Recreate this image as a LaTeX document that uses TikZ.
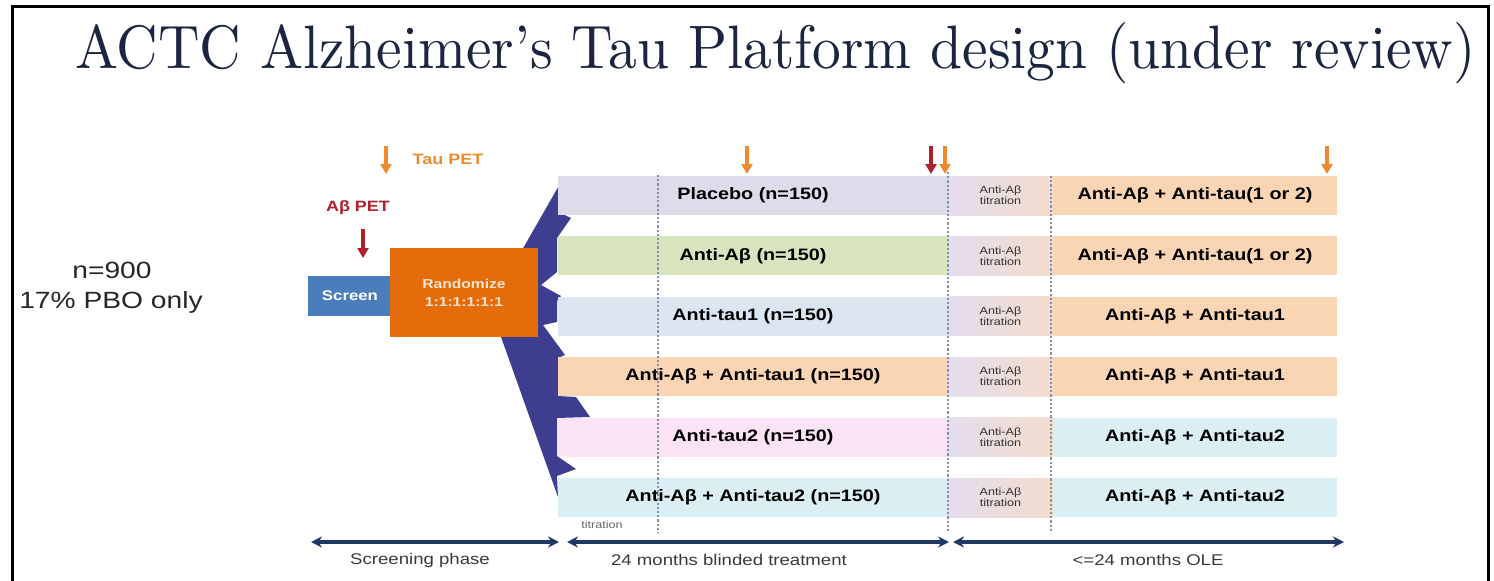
\documentclass[tikz,border=0pt]{standalone}
\usepackage{fontspec}
\usepackage{graphicx}
\usetikzlibrary{arrows.meta}
\newfontfamily\ar[FakeStretch=1.2]{Liberation Sans}
\definecolor{titlecol}{HTML}{1B2540}
\definecolor{fancol}{HTML}{3E3E91}
\definecolor{lav}{HTML}{DEDBEA}
\definecolor{grn}{HTML}{D7E4BD}
\definecolor{lblue}{HTML}{DCE6F1}
\definecolor{peach}{HTML}{FAD5B3}
\definecolor{pink}{HTML}{FBE3F6}
\definecolor{cyanb}{HTML}{DAEEF3}
\definecolor{titl}{HTML}{E4DDEE}
\definecolor{titr}{HTML}{F3DCCD}
\definecolor{screencol}{HTML}{4A7EBB}
\definecolor{randcol}{HTML}{E46C0A}
\definecolor{randtxt}{HTML}{FBE3D0}
\definecolor{petred}{HTML}{B0202E}
\definecolor{petorange}{HTML}{EE8A2E}
\definecolor{navy}{HTML}{1F3864}
\definecolor{dashcol}{HTML}{8390A8}
\definecolor{greytxt}{HTML}{3A3A3A}
\begin{document}
\begin{tikzpicture}[x=1pt,y=-1pt,
  bar/.style={rectangle, inner sep=0pt, minimum height=39pt, text=black,
    font=\ar\bfseries\fontsize{16.5}{18}\selectfont},
  blind/.style={bar, minimum width=390pt},
  ole/.style={bar, minimum width=284pt},
  titcell/.style={rectangle, inner sep=0pt, minimum height=39pt, minimum width=105pt,
    left color=titl, right color=titr, align=center, text=black!80,
    font=\ar\fontsize{10.5}{11}\selectfont},
  petarrow/.style={line width=3.4pt, -{Triangle[length=10pt,width=11pt]}},
  phase/.style={line width=3.4pt, navy, {Stealth[length=11pt,width=11pt]}-{Stealth[length=11pt,width=11pt]}},
  phaselabel/.style={text=greytxt, font=\ar\fontsize{15.5}{17}\selectfont},
  vdash/.style={dashcol, line width=1.4pt, dash pattern=on 2.2pt off 2pt}
]
\useasboundingbox (0,0) rectangle (1494,581);
\fill[white] (0,0) rectangle (1494,581);
% frame
\draw[line width=3pt] (12,582) -- (12,6.5) -- (1488.5,6.5) -- (1488.5,582);
% title
\node[anchor=base west, inner sep=0pt, text=titlecol] (title) at (75,68)
  {\resizebox{1400pt}{46pt}{ACTC Alzheimer’s Tau Platform design (under review)}};
% left text
\node[font=\ar\fontsize{23.5}{25}\selectfont, text=black!85] (n900) at (112,270) {n=900};
\node[font=\ar\fontsize{23.5}{25}\selectfont, text=black!85] (pbo) at (111,302) {17\% PBO only};
% fan
\fill[fancol] (561,182) -- (558,212) -- (571,218) -- (557,238) -- (557,272) -- (541,285)
  -- (561,296) -- (557,301) -- (557,322) -- (543,325) -- (565,355) -- (558,358)
  -- (558,396) -- (576,397) -- (590,417) -- (557,418)
  -- (557,456) -- (576,469) -- (557,476) -- (558,497) -- (490,306) -- cycle;
% blinded bars
\node[blind, fill=lav]   (b1) at (753,195.5) {Placebo (n=150)};
\node[blind, fill=grn]   (b2) at (753,255.9) {Anti-Aβ (n=150)};
\node[blind, fill=lblue] (b3) at (753,316.3) {Anti-tau1 (n=150)};
\node[blind, fill=peach] (b4) at (753,376.7) {Anti-Aβ + Anti-tau1 (n=150)};
\node[blind, fill=pink]  (b5) at (753,437.1) {Anti-tau2 (n=150)};
\node[blind, fill=cyanb] (b6) at (753,497.5) {Anti-Aβ + Anti-tau2 (n=150)};
% titration cells
\foreach \i/\y in {1/195.5,2/255.9,3/316.3,4/376.7,5/437.1,6/497.5}{
  \node[titcell] (t\i) at (1000.5,\y) {Anti-Aβ\\titration};
}
% OLE bars
\node[ole, fill=peach] (o1) at (1195,195.5) {Anti-Aβ + Anti-tau(1 or 2)};
\node[ole, fill=peach] (o2) at (1195,255.9) {Anti-Aβ + Anti-tau(1 or 2)};
\node[ole, fill=peach] (o3) at (1195,316.3) {Anti-Aβ + Anti-tau1};
\node[ole, fill=peach] (o4) at (1195,376.7) {Anti-Aβ + Anti-tau1};
\node[ole, fill=cyanb] (o5) at (1195,437.1) {Anti-Aβ + Anti-tau2};
\node[ole, fill=cyanb] (o6) at (1195,497.5) {Anti-Aβ + Anti-tau2};
% small titration label
\node[text=black!60, font=\ar\fontsize{10.5}{11}\selectfont] (smalltit) at (602,525) {titration};
% dashed lines
\coordinate (d1t) at (658,175); \coordinate (d1b) at (658,533);
\coordinate (d2t) at (948,172); \coordinate (d2b) at (948,533);
\coordinate (d3t) at (1051,176); \coordinate (d3b) at (1051,533);
\draw[vdash] (d1t) -- (d1b);
\draw[vdash] (d2t) -- (d2b);
\draw[vdash] (d3t) -- (d3b);
% screen & randomize
\node[rectangle, fill=screencol, minimum width=84pt, minimum height=40pt, inner sep=0pt,
  text=white, font=\ar\bfseries\fontsize{14}{15}\selectfont] (screen) at (350,295.5) {Screen};
\node[rectangle, fill=randcol, minimum width=148pt, minimum height=89pt, inner sep=0pt,
  align=center, text=randtxt, font=\ar\bfseries\fontsize{13}{18}\selectfont] (rand) at (464,292.5) {Randomize\\1:1:1:1:1:1};
% PET labels and arrows
\node[text=petred, font=\ar\bfseries\fontsize{15}{16}\selectfont] (abpet) at (358,208) {Aβ PET};
\coordinate (ra1) at (363,229); \coordinate (ra2) at (363,258);
\draw[petarrow, petred] (ra1) -- (ra2);
\node[text=petorange, font=\ar\bfseries\fontsize{15}{16}\selectfont] (taupet) at (448,159) {Tau PET};
\coordinate (oa1) at (386,146); \coordinate (oa2) at (386,174);
\draw[petarrow, petorange] (oa1) -- (oa2);
\coordinate (oa3) at (747,146); \coordinate (oa4) at (747,174);
\draw[petarrow, petorange] (oa3) -- (oa4);
\coordinate (ra3) at (931,146); \coordinate (ra4) at (931,174);
\draw[petarrow, petred] (ra3) -- (ra4);
\coordinate (oa5) at (945,146); \coordinate (oa6) at (945,174);
\draw[petarrow, petorange] (oa5) -- (oa6);
\coordinate (oa7) at (1327,146); \coordinate (oa8) at (1327,174);
\draw[petarrow, petorange] (oa7) -- (oa8);
% phase arrows
\coordinate (p1a) at (311,542); \coordinate (p1b) at (559,542);
\coordinate (p2a) at (567,542); \coordinate (p2b) at (949,542);
\coordinate (p3a) at (953,542); \coordinate (p3b) at (1344,542);
\draw[phase] (p1a) -- (p1b);
\draw[phase] (p2a) -- (p2b);
\draw[phase] (p3a) -- (p3b);
\node[phaselabel] (l1) at (420,560) {Screening phase};
\node[phaselabel] (l2) at (729,560) {24 months blinded treatment};
\node[phaselabel] (l3) at (1148,560) {<=24 months OLE};
\end{tikzpicture}
\end{document}
